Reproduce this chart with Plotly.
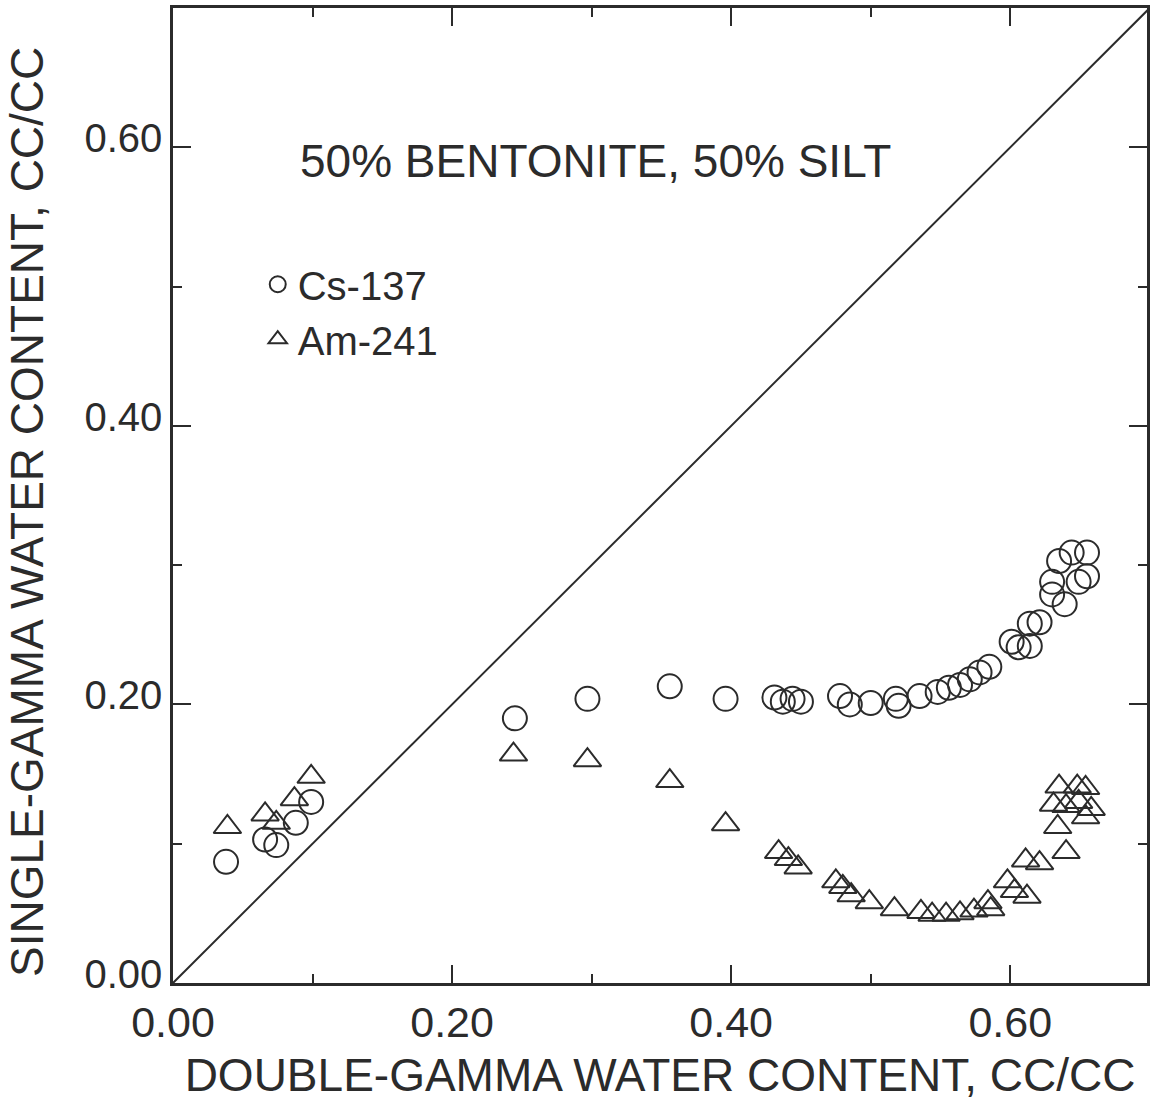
import plotly.graph_objects as go

# Cs-137 (circles)
cs_x = [0.038, 0.066, 0.074, 0.088, 0.099, 0.245, 0.297, 0.356, 0.396,
        0.431, 0.437, 0.444, 0.450, 0.478, 0.485, 0.500, 0.518, 0.520,
        0.535, 0.548, 0.556, 0.564, 0.571, 0.578, 0.585, 0.601, 0.606,
        0.614, 0.614, 0.621, 0.630, 0.630, 0.635, 0.639, 0.644, 0.649,
        0.655, 0.655]
cs_y = [0.087, 0.103, 0.099, 0.115, 0.130, 0.190, 0.204, 0.213, 0.204,
        0.205, 0.202, 0.204, 0.202, 0.206, 0.200, 0.201, 0.204, 0.199,
        0.206, 0.209, 0.212, 0.214, 0.218, 0.223, 0.227, 0.245, 0.241,
        0.242, 0.258, 0.259, 0.279, 0.288, 0.303, 0.272, 0.309, 0.288,
        0.309, 0.292]

# Am-241 (triangles)
am_x = [0.039, 0.066, 0.074, 0.087, 0.099, 0.244, 0.297, 0.356, 0.396,
        0.434, 0.441, 0.448, 0.475, 0.480, 0.486, 0.499, 0.517, 0.536,
        0.544, 0.554, 0.564, 0.574, 0.584, 0.586, 0.598, 0.603, 0.612,
        0.611, 0.621, 0.640, 0.634, 0.654, 0.631, 0.640, 0.649, 0.635,
        0.648, 0.654, 0.658]
am_y = [0.112, 0.121, 0.115, 0.132, 0.148, 0.164, 0.160, 0.145, 0.114,
        0.094, 0.089, 0.083, 0.073, 0.069, 0.063, 0.058, 0.053, 0.051,
        0.049, 0.049, 0.050, 0.052, 0.058, 0.053, 0.073, 0.066, 0.062,
        0.088, 0.086, 0.094, 0.112, 0.119, 0.128, 0.127, 0.130, 0.141,
        0.141, 0.140, 0.125]

# 1:1 line
line_x = [0.0, 0.70]
line_y = [0.0, 0.70]

tick_vals = [0.0, 0.2, 0.4, 0.6]
tick_text = ["0.00", "0.20", "0.40", "0.60"]

INK = "#2b2b2b"
FONT = "Liberation Sans, Arial, sans-serif"

fig = go.Figure()
fig.add_trace(go.Scatter(x=line_x, y=line_y, mode="lines",
                         line=dict(color=INK, width=2), showlegend=False,
                         hoverinfo="skip"))
fig.add_trace(go.Scatter(x=cs_x, y=cs_y, mode="markers", name="Cs-137",
                         marker=dict(symbol="circle-open", size=24,
                                     color=INK, line=dict(width=2, color=INK))))
fig.add_trace(go.Scatter(x=am_x, y=am_y, mode="markers", name="Am-241",
                         marker=dict(symbol="triangle-up-open", size=24,
                                     color=INK, line=dict(width=2, color=INK))))

axis_common = dict(
    showgrid=False, zeroline=False, showline=True, linecolor=INK, linewidth=2.5,
    mirror="ticks", ticks="inside", ticklen=18, tickwidth=1.5, tickcolor=INK,
    tickvals=tick_vals, ticktext=tick_text,
    minor=dict(ticks="inside", ticklen=9, tickwidth=1.5, tickcolor=INK,
               tickvals=[0.1, 0.3, 0.5]),
)

fig.update_xaxes(range=[0, 0.698], ticklabelstandoff=0,
                 tickfont=dict(family=FONT, size=43, color=INK),
                 title=dict(text="DOUBLE-GAMMA WATER CONTENT, CC/CC",
                            font=dict(family=FONT, size=46, color=INK),
                            standoff=14),
                 **axis_common)
fig.update_yaxes(range=[0, 0.70], ticklabelstandoff=0, ticklabelshift=-9,
                 tickfont=dict(family=FONT, size=40, color=INK),
                 **axis_common)

# y-axis title as an annotation so it can sit where the original sits
fig.add_annotation(text="SINGLE-GAMMA WATER CONTENT, CC/CC", xref="paper",
                   yref="paper", x=-0.150, y=0.483, textangle=-90,
                   showarrow=False, xanchor="center", yanchor="middle",
                   font=dict(family=FONT, size=46, color=INK))

fig.add_annotation(text="50% BENTONITE, 50% SILT", xref="paper", yref="paper",
                   x=0.434, y=0.872, showarrow=False,
                   font=dict(family=FONT, size=46, color=INK))

fig.update_layout(
    width=1153, height=1103,
    margin=dict(l=173, r=3, t=8, b=120),
    paper_bgcolor="white", plot_bgcolor="white",
    showlegend=True,
    legend=dict(x=0.087, y=0.75, xanchor="left", yanchor="top",
                bgcolor="rgba(0,0,0,0)", borderwidth=0,
                font=dict(family=FONT, size=40, color=INK),
                itemsizing="trace"),
)

fig.write_html("out.html")
